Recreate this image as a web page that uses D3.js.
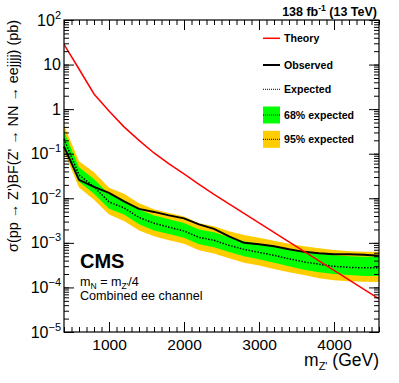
<!DOCTYPE html>
<html lang="en">

<head>
    <meta charset="UTF-8" />
    <title>CMS Z' to NN to eejjjj limits</title>
    <script src="https://d3js.org/d3.v7.min.js"></script>
    <style>
        body { margin: 0; background: #fff; }
        svg { font-family: "Liberation Sans", Arial, sans-serif; }
    </style>
</head>

<body>
    <script>
        // Z' mass points (GeV)
        var masses = [400, 600, 800, 1000, 1200, 1400, 1600, 1800, 2000, 2200, 2400,
            2600, 2800, 3000, 3200, 3400, 3600, 3800, 4000, 4200, 4400, 4600];

        // cross section x BF (pb)
        var theory = [28.5, 7.96, 2.19, 0.91, 0.40, 0.199, 0.104, 0.059, 0.0352, 0.0205, 0.0122,
            0.00748, 0.00458, 0.00281, 0.00172, 0.00105, 0.000644, 0.000394, 0.000242, 0.000148, 0.0000906, 0.0000555];
        var observed = [0.144, 0.0259, 0.0180, 0.0132, 0.00851, 0.00578, 0.00495, 0.00414, 0.00354, 0.00260, 0.00206,
            0.00140, 0.00100, 0.000935, 0.000835, 0.000715, 0.000628, 0.000582, 0.000552, 0.000552, 0.000538, 0.000512];
        var expected = [0.215, 0.0335, 0.0180, 0.0083, 0.0061, 0.00373, 0.00274, 0.00225, 0.00185, 0.00133, 0.00114,
            0.000879, 0.000715, 0.000612, 0.000525, 0.000438, 0.000375, 0.00033, 0.000297, 0.000282, 0.000275, 0.000275];
        var exp68Low = [0.15, 0.0235, 0.0127, 0.0058, 0.0043, 0.0026, 0.0019, 0.00158, 0.0013, 0.00093, 0.0008,
            0.00062, 0.0005, 0.00043, 0.00036, 0.0003, 0.00025, 0.00022, 0.0002, 0.00019, 0.00018, 0.00018];
        var exp68High = [0.32, 0.050, 0.027, 0.0125, 0.0092, 0.0056, 0.0041, 0.0034, 0.0028, 0.0020, 0.00172,
            0.00133, 0.00109, 0.00094, 0.00081, 0.00070, 0.00062, 0.00057, 0.00053, 0.0005, 0.00049, 0.00049];
        var exp95Low = [0.11, 0.0175, 0.0093, 0.0043, 0.0031, 0.0019, 0.0014, 0.00115, 0.00095, 0.00068, 0.00058,
            0.00045, 0.00036, 0.00031, 0.00026, 0.00022, 0.00019, 0.00016, 0.000145, 0.000138, 0.000134, 0.000133];
        var exp95High = [0.44, 0.068, 0.0385, 0.0172, 0.0126, 0.0077, 0.0057, 0.0047, 0.0039, 0.00275, 0.00236,
            0.00183, 0.0015, 0.0013, 0.00112, 0.00096, 0.00084, 0.00076, 0.00069, 0.00065, 0.00063, 0.00063];

        var xTicks = [1000, 2000, 3000, 4000];
        var yExponents = [-5, -4, -3, -2, -1, 0, 1, 2];
        var legendLabels = ["Theory", "Observed", "Expected", "68% expected", "95% expected"];

        var w = 399;
        var h = 383;
        var plotLeft = 64, plotRight = 379, plotTop = 20, plotBottom = 332;

        var svg = d3.select("body")
            .append("svg")
            .attr("width", w)
            .attr("height", h);

        var xScale = d3.scaleLinear()
            .domain([400, 4600])
            .range([plotLeft, plotRight]);

        var yScale = d3.scaleLog()
            .domain([1e-5, 1e2])
            .range([plotBottom, plotTop]);

        var rows = masses.map(function (m, i) {
            return {
                m: m, th: theory[i], obs: observed[i], exp: expected[i],
                lo68: exp68Low[i], hi68: exp68High[i], lo95: exp95Low[i], hi95: exp95High[i]
            };
        });

        // bands
        var band95 = d3.area()
            .x(function (d) { return xScale(d.m); })
            .y0(function (d) { return yScale(d.lo95); })
            .y1(function (d) { return yScale(d.hi95); });
        var band68 = d3.area()
            .x(function (d) { return xScale(d.m); })
            .y0(function (d) { return yScale(d.lo68); })
            .y1(function (d) { return yScale(d.hi68); });

        svg.append("path").datum(rows).attr("d", band95).attr("fill", "#ffcc00");
        svg.append("path").datum(rows).attr("d", band68).attr("fill", "#00ff00");

        function lineOf(key) {
            return d3.line()
                .x(function (d) { return xScale(d.m); })
                .y(function (d) { return yScale(d[key]); });
        }

        svg.append("path").datum(rows).attr("d", lineOf("exp"))
            .attr("fill", "none").attr("stroke", "black").attr("stroke-width", 1.5)
            .attr("stroke-dasharray", "1.5,1.5");
        svg.append("path").datum(rows).attr("d", lineOf("obs"))
            .attr("fill", "none").attr("stroke", "black").attr("stroke-width", 2);

        svg.append("defs").append("clipPath").attr("id", "clip")
            .append("rect").attr("x", plotLeft).attr("y", plotTop)
            .attr("width", plotRight - plotLeft).attr("height", plotBottom - plotTop);
        svg.append("path").datum(rows).attr("d", lineOf("th"))
            .attr("clip-path", "url(#clip)")
            .attr("fill", "none").attr("stroke", "#ff0000").attr("stroke-width", 1.5);

        // axes, ROOT style ticks pointing inwards
        var xMinor = d3.range(400, 4601, 100);
        var yMinor = yScale.ticks();
        var yMajor = yExponents.map(function (e) { return Math.pow(10, e); });

        function noDomain(g) { g.select(".domain").remove(); }

        svg.append("g").attr("transform", "translate(0," + plotBottom + ")")
            .call(d3.axisBottom(xScale).tickValues(xMinor).tickSize(-5).tickFormat(""))
            .call(noDomain);
        svg.append("g").attr("transform", "translate(0," + plotBottom + ")")
            .call(d3.axisBottom(xScale).tickValues(xTicks).tickSize(-10).tickPadding(7)
                .tickFormat(d3.format("d")))
            .call(noDomain)
            .selectAll("text").attr("font-size", 15.5).attr("font-family", "Liberation Sans, Arial, sans-serif");
        svg.append("g").attr("transform", "translate(0," + plotTop + ")")
            .call(d3.axisTop(xScale).tickValues(xMinor).tickSize(-5).tickFormat(""))
            .call(noDomain);
        svg.append("g").attr("transform", "translate(0," + plotTop + ")")
            .call(d3.axisTop(xScale).tickValues(xTicks).tickSize(-10).tickFormat(""))
            .call(noDomain);

        svg.append("g").attr("transform", "translate(" + plotLeft + ",0)")
            .call(d3.axisLeft(yScale).tickValues(yMinor).tickSize(-5).tickFormat(""))
            .call(noDomain);
        svg.append("g").attr("transform", "translate(" + plotLeft + ",0)")
            .call(d3.axisLeft(yScale).tickValues(yMajor).tickSize(-10).tickFormat(""))
            .call(noDomain);
        svg.append("g").attr("transform", "translate(" + plotRight + ",0)")
            .call(d3.axisRight(yScale).tickValues(yMinor).tickSize(-5).tickFormat(""))
            .call(noDomain);
        svg.append("g").attr("transform", "translate(" + plotRight + ",0)")
            .call(d3.axisRight(yScale).tickValues(yMajor).tickSize(-10).tickFormat(""))
            .call(noDomain);

        svg.selectAll(".tick line").attr("stroke", "black").attr("stroke-width", 1);

        // y tick labels with superscripts
        var yLab = svg.append("g").selectAll("text")
            .data(yExponents)
            .enter()
            .append("text")
            .attr("x", 61)
            .attr("y", function (e) { return yScale(Math.pow(10, e)) + 5.5; })
            .attr("text-anchor", "end")
            .attr("font-size", 16);
        yLab.each(function (e) {
            var t = d3.select(this);
            if (e === 0) { t.text("1"); return; }
            if (e === 1) { t.text("10"); return; }
            t.append("tspan").text("10");
            t.append("tspan").attr("dy", -7).attr("font-size", 11)
                .text(e < 0 ? "\u2212" + (-e) : e);
        });

        // frame
        svg.append("rect")
            .attr("x", plotLeft).attr("y", plotTop)
            .attr("width", plotRight - plotLeft).attr("height", plotBottom - plotTop)
            .attr("fill", "none").attr("stroke", "black").attr("stroke-width", 1.2);

        // axis titles
        var xt = svg.append("text")
            .attr("x", plotRight).attr("y", 366)
            .attr("text-anchor", "end")
            .attr("font-size", 17.5);
        xt.append("tspan").text("m");
        xt.append("tspan").attr("dy", 4).attr("font-size", 11).text("Z'");
        xt.append("tspan").attr("dy", -4).text(" (GeV)");

        svg.append("text")
            .attr("transform", "rotate(-90)")
            .attr("x", -plotTop)
            .attr("y", 18)
            .attr("text-anchor", "end")
            .attr("font-size", 14.5)
            .attr("textLength", 232)
            .attr("lengthAdjust", "spacingAndGlyphs")
            .text("\u03c3(pp \u2192 Z')BF(Z' \u2192 NN \u2192 eejjjj) (pb)");

        // lumi label
        var lumi = svg.append("text")
            .attr("x", 377).attr("y", 16)
            .attr("text-anchor", "end")
            .attr("font-weight", "bold")
            .attr("font-size", 12.5);
        lumi.append("tspan").text("138 fb");
        lumi.append("tspan").attr("dy", -5).attr("font-size", 8.5).text("-1");
        lumi.append("tspan").attr("dy", 5).text(" (13 TeV)");

        // CMS label and info
        svg.append("text")
            .attr("x", 80).attr("y", 268)
            .attr("font-weight", "bold")
            .attr("font-size", 20)
            .text("CMS");

        var info = svg.append("text")
            .attr("x", 80).attr("y", 286)
            .attr("font-size", 12.6);
        info.append("tspan").text("m");
        info.append("tspan").attr("dy", 3).attr("font-size", 8.5).text("N");
        info.append("tspan").attr("dy", -3).text(" = m");
        info.append("tspan").attr("dy", 3).attr("font-size", 8.5).text("Z'");
        info.append("tspan").attr("dy", -3).text("/4");

        svg.append("text")
            .attr("x", 80).attr("y", 299.5)
            .attr("font-size", 12.6)
            .text("Combined ee channel");

        // legend
        var legY = [38.3, 65, 89.3, 115, 139.3];
        var lx0 = 263, lx1 = 280;
        var leg = svg.append("g");

        leg.append("rect").attr("x", lx0).attr("y", legY[3] - 8.5).attr("width", lx1 - lx0).attr("height", 17)
            .attr("fill", "#00ff00");
        leg.append("rect").attr("x", lx0).attr("y", legY[4] - 8.5).attr("width", lx1 - lx0).attr("height", 17)
            .attr("fill", "#ffcc00");

        leg.append("line").attr("x1", lx0).attr("x2", lx1).attr("y1", legY[0]).attr("y2", legY[0])
            .attr("stroke", "#ff0000").attr("stroke-width", 1.5);
        leg.append("line").attr("x1", lx0).attr("x2", lx1).attr("y1", legY[1]).attr("y2", legY[1])
            .attr("stroke", "black").attr("stroke-width", 2);
        [2, 3, 4].forEach(function (i) {
            leg.append("line").attr("x1", lx0).attr("x2", lx1).attr("y1", legY[i]).attr("y2", legY[i])
                .attr("stroke", "black").attr("stroke-width", 1).attr("stroke-dasharray", "1,1");
        });

        leg.selectAll("text.lab")
            .data(legendLabels)
            .enter()
            .append("text")
            .attr("class", "lab")
            .attr("x", 284)
            .attr("y", function (d, i) { return legY[i] + 4; })
            .attr("font-weight", "bold")
            .attr("font-size", 10.6)
            .text(function (d) { return d; });
    </script>
</body>

</html>
